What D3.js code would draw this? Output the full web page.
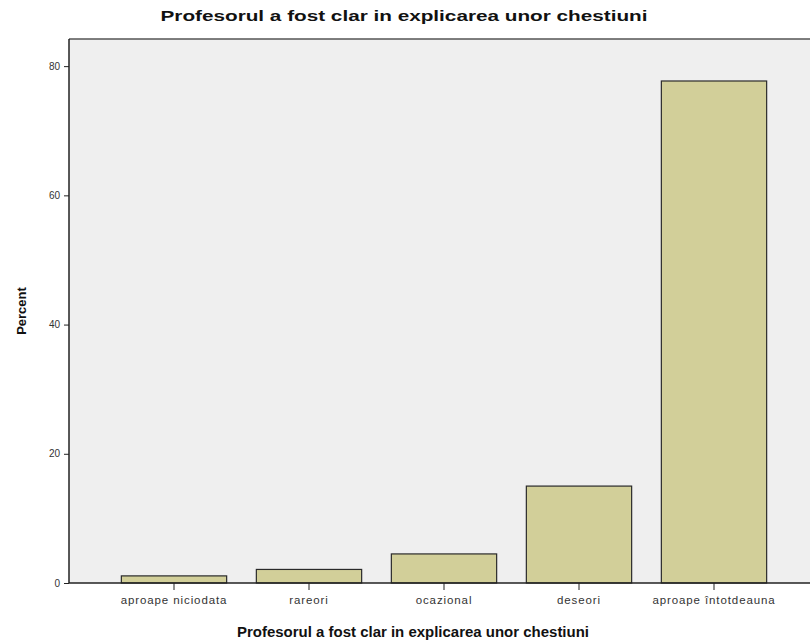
<!DOCTYPE html>
<html>
<head>
<meta charset="utf-8">
<script src="https://cdn.jsdelivr.net/npm/d3@7"></script>
<style>
  body { margin: 0; background: #fff; }
  text { font-family: "Liberation Sans", Arial, sans-serif; }
</style>
</head>
<body>
<div id="chart"></div>
<script>

var categories = ['aproape niciodata', 'rareori', 'ocazional', 'deseori', 'aproape întotdeauna'];
var percents = [1.1, 2.1, 4.5, 15.0, 77.7];
var yTicks = [0, 20, 40, 60, 80];
var chartTitle = 'Profesorul a fost clar in explicarea unor chestiuni';

var width = 810, height = 642;
var margin = { top: 39, right: 0, bottom: 59, left: 69 };

var svg = d3.select('#chart').append('svg')
  .attr('width', width)
  .attr('height', height);

var x = d3.scaleBand()
  .domain(categories)
  .range([106.5, 781.5])
  .paddingInner(0.22)
  .paddingOuter(0.11);

var y = d3.scaleLinear()
  .domain([0, 84.2])
  .range([height - margin.bottom, margin.top]);

// plot background
svg.append('rect')
  .attr('x', margin.left)
  .attr('y', margin.top)
  .attr('width', width - margin.left)
  .attr('height', height - margin.bottom - margin.top)
  .attr('fill', '#efefef');

// top frame line
svg.append('line')
  .attr('x1', margin.left).attr('x2', width)
  .attr('y1', margin.top).attr('y2', margin.top)
  .attr('stroke', '#555').attr('stroke-width', 1.5);

// bars
svg.selectAll('.bar')
  .data(percents)
  .enter().append('rect')
  .attr('class', 'bar')
  .attr('x', function(d, i) { return x(categories[i]); })
  .attr('width', x.bandwidth())
  .attr('y', function(d) { return y(d); })
  .attr('height', function(d) { return y(0) - y(d); })
  .attr('fill', '#d2cf99')
  .attr('stroke', '#2a2a2a')
  .attr('stroke-width', 1.2);

// y axis
var yAxis = svg.append('g')
  .attr('transform', 'translate(' + margin.left + ',0)')
  .call(d3.axisLeft(y).tickValues(yTicks).tickSize(5).tickPadding(4));
yAxis.select('.domain').attr('stroke', '#222').attr('stroke-width', 1.5)
  .attr('d', 'M0,' + y(0) + 'V' + margin.top);
yAxis.selectAll('.tick line').attr('stroke', '#222');
yAxis.selectAll('.tick text').attr('font-size', 10).attr('fill', '#333');

// x axis
var xAxis = svg.append('g')
  .attr('transform', 'translate(0,' + y(0) + ')')
  .call(d3.axisBottom(x).tickSize(7).tickPadding(6));
xAxis.select('.domain').attr('stroke', '#222').attr('stroke-width', 1.5)
  .attr('d', 'M' + margin.left + ',0H' + width);
xAxis.selectAll('.tick line').attr('stroke', '#222');
xAxis.selectAll('.tick text')
  .attr('font-size', 11.5)
  .attr('letter-spacing', 0.9)
  .attr('fill', '#333');

// title
svg.append('text')
  .attr('x', 404)
  .attr('y', 21)
  .attr('text-anchor', 'middle')
  .attr('font-size', 15)
  .attr('font-weight', 'bold')
  .attr('fill', '#111')
  .attr('textLength', 487)
  .attr('lengthAdjust', 'spacingAndGlyphs')
  .text(chartTitle);

// x axis title
svg.append('text')
  .attr('x', 413)
  .attr('y', 637)
  .attr('text-anchor', 'middle')
  .attr('font-size', 14)
  .attr('font-weight', 'bold')
  .attr('fill', '#111')
  .attr('textLength', 352)
  .attr('lengthAdjust', 'spacingAndGlyphs')
  .text(chartTitle);

// y axis title
svg.append('text')
  .attr('transform', 'translate(26,' + 311 + ')rotate(-90)')
  .attr('text-anchor', 'middle')
  .attr('font-size', 13)
  .attr('font-weight', 'bold')
  .attr('fill', '#111')
  .text('Percent');

</script>
</body>
</html>
